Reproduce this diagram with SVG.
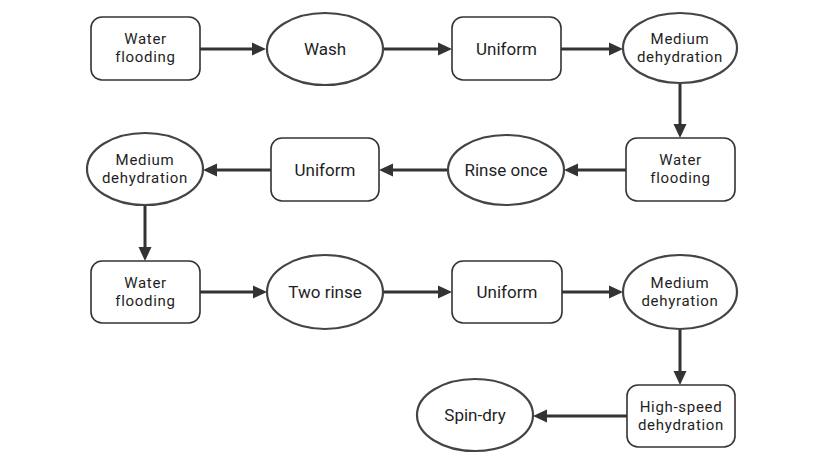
<svg xmlns="http://www.w3.org/2000/svg" width="825" height="467" viewBox="0 0 825 467">
<style>
  .box { fill: #ffffff; stroke: #333333; stroke-width: 1.6; }
  .ell { fill: #ffffff; stroke: #444444; stroke-width: 2.2; }
  .t { font-family: Roboto, "Noto Sans", "Liberation Sans", sans-serif; fill: #1e1e1e; text-anchor: middle; }
  .t1 { font-size: 17px; }
  .t2 { font-size: 15px; letter-spacing: 0.7px; }
  .conn { stroke: #333333; stroke-width: 3; fill: none; marker-end: url(#arr); }
</style>
<defs>
  <marker id="arr" markerUnits="userSpaceOnUse" viewBox="0 0 14 14" markerWidth="14" markerHeight="14" refX="2" refY="7" orient="auto">
    <path d="M0,0.5 L14,7 L0,13.5 Z" fill="#333333"/>
  </marker>
</defs>
<rect width="825" height="467" fill="#ffffff"/>
<g id="connectors">
  <line class="conn" x1="200" y1="49" x2="254" y2="49"/>
  <line class="conn" x1="383" y1="49" x2="440" y2="49"/>
  <line class="conn" x1="561" y1="49" x2="611" y2="49"/>
  <line class="conn" x1="680" y1="83" x2="680" y2="126"/>
  <line class="conn" x1="626" y1="170" x2="576" y2="170"/>
  <line class="conn" x1="448" y1="170" x2="391" y2="170"/>
  <line class="conn" x1="271" y1="170" x2="215" y2="170"/>
  <line class="conn" x1="145" y1="205" x2="145" y2="249"/>
  <line class="conn" x1="200" y1="292" x2="255" y2="292"/>
  <line class="conn" x1="383" y1="292" x2="440" y2="292"/>
  <line class="conn" x1="562" y1="292" x2="611" y2="292"/>
  <line class="conn" x1="680" y1="329" x2="680" y2="373"/>
  <line class="conn" x1="627" y1="416" x2="545" y2="416"/>
</g>
<g id="n1"><rect class="box" x="91" y="17" width="109" height="63" rx="11"/><text class="t t2" x="145.5" y="44">Water</text><text class="t t2" x="145.5" y="61.8">flooding</text></g>
<g id="n2"><ellipse class="ell" cx="325" cy="49" rx="58" ry="36"/><text class="t t1" x="325" y="55">Wash</text></g>
<g id="n3"><rect class="box" x="452" y="17" width="109" height="63" rx="11"/><text class="t t1" x="506.5" y="55">Uniform</text></g>
<g id="n4"><ellipse class="ell" cx="680" cy="48" rx="57" ry="35"/><text class="t t2" x="680" y="44">Medium</text><text class="t t2" x="680" y="61.8">dehydration</text></g>
<g id="n5"><rect class="box" x="626" y="138" width="109" height="63" rx="11"/><text class="t t2" x="680.5" y="165">Water</text><text class="t t2" x="680.5" y="182.8">flooding</text></g>
<g id="n6"><ellipse class="ell" cx="506" cy="170" rx="58" ry="35"/><text class="t t1" x="506" y="176">Rinse once</text></g>
<g id="n7"><rect class="box" x="271" y="138" width="108" height="63" rx="11"/><text class="t t1" x="325" y="176">Uniform</text></g>
<g id="n8"><ellipse class="ell" cx="145" cy="169" rx="58" ry="36"/><text class="t t2" x="145" y="165">Medium</text><text class="t t2" x="145" y="182.8">dehydration</text></g>
<g id="n9"><rect class="box" x="91" y="261" width="109" height="62" rx="11"/><text class="t t2" x="145.5" y="288">Water</text><text class="t t2" x="145.5" y="305.8">flooding</text></g>
<g id="n10"><ellipse class="ell" cx="325" cy="292" rx="58" ry="37"/><text class="t t1" x="325" y="298">Two rinse</text></g>
<g id="n11"><rect class="box" x="452" y="261" width="110" height="62" rx="11"/><text class="t t1" x="507" y="298">Uniform</text></g>
<g id="n12"><ellipse class="ell" cx="680" cy="292" rx="57" ry="37"/><text class="t t2" x="680" y="288">Medium</text><text class="t t2" x="680" y="305.8">dehyration</text></g>
<g id="n13"><rect class="box" x="627" y="385" width="108" height="62" rx="11"/><text class="t t2" x="681" y="412">High-speed</text><text class="t t2" x="681" y="429.8">dehydration</text></g>
<g id="n14"><ellipse class="ell" cx="475" cy="415" rx="58" ry="36"/><text class="t t1" x="475" y="421">Spin-dry</text></g>
</svg>
